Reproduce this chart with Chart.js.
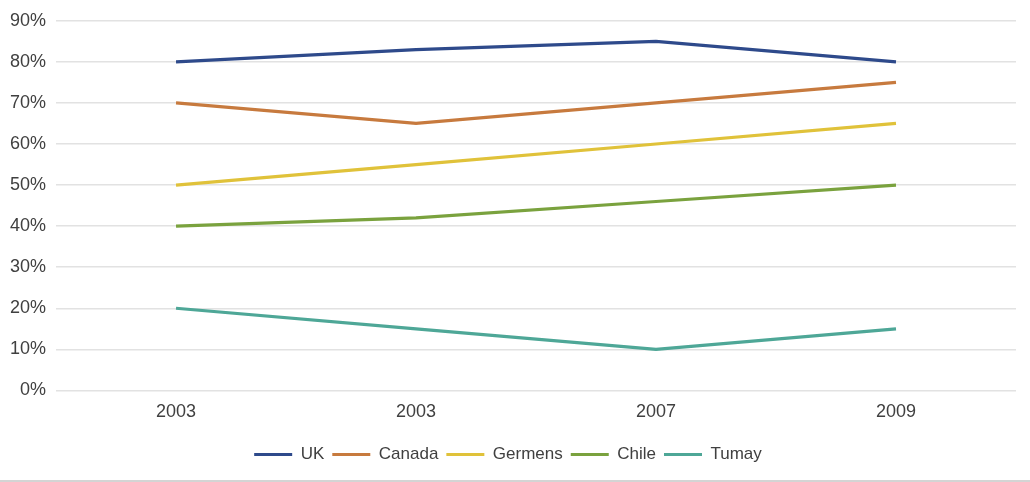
<!DOCTYPE html>
<html>
<head>
<meta charset="utf-8">
<script src="https://cdn.jsdelivr.net/npm/chart.js@4"></script>
<style>
  html, body { margin: 0; padding: 0; background: #fff; }
  #wrap { width: 1030px; height: 480px; border-bottom: 2px solid #d4d4d4; }
</style>
</head>
<body>
<div id="wrap"><canvas id="lineChart" width="1030" height="480"></canvas></div>
<script>
// values
let years = ['2003', '2003', '2007', '2009'];
let countries = ['UK', 'Canada', 'Germens', 'Chile', 'Tumay'];
let ukValues = [80, 83, 85, 80];
let canadaValues = [70, 65, 70, 75];
let germensValues = [50, 55, 60, 65];
let chileValues = [40, 42, 46, 50];
let tumayValues = [20, 15, 10, 15];
let yTicks = [0, 10, 20, 30, 40, 50, 60, 70, 80, 90];

let seriesValues = [ukValues, canadaValues, germensValues, chileValues, tumayValues];
let colors = ['#2e4a8b', '#c77a3e', '#e0c23a', '#7aa23e', '#4ea797'];

let datasets = [];
for (let i = 0; i < countries.length; i++) { // one line per country
  datasets.push({
    label: countries[i],
    data: seriesValues[i],
    borderColor: colors[i],
    backgroundColor: colors[i],
    borderWidth: 3.2,
    pointRadius: 0,
    pointHoverRadius: 0,
    tension: 0,
    pointStyle: 'line'
  });
}

Chart.defaults.font.family = '"Liberation Sans", Arial, sans-serif';
Chart.defaults.font.size = 18;
Chart.defaults.color = '#404040';

const ctx = document.getElementById('lineChart');
new Chart(ctx, {
  type: 'line',
  data: {
    labels: years,
    datasets: datasets
  },
  options: {
    responsive: false,
    animation: false,
    layout: {padding: {left: 0, right: 14, top: 17, bottom: 7}},
    scales: {
      x: {
        offset: true,
        grid: {display: false, drawTicks: false},
        border: {display: false},
        ticks: {padding: 11},
        afterFit: function (axis) { axis.height += 4; } // extra gap above the legend
      },
      y: {
        min: 0,
        max: 90,
        afterBuildTicks: function (axis) {
          axis.ticks = yTicks.map(v => ({value: v}));
        },
        grid: {color: '#e2e2e2', lineWidth: 1.5, drawTicks: false},
        border: {display: false},
        ticks: {
          padding: 10,
          callback: function (v) { return v + '%'; }
        }
      }
    },
    plugins: {
      tooltip: {enabled: false},
      legend: {
        position: 'bottom',
        labels: {
          usePointStyle: true,
          pointStyleWidth: 38,
          boxWidth: 38,
          padding: 8,
          color: '#404040',
          font: {size: 17}
        }
      }
    }
  }
});
</script>
</body>
</html>
